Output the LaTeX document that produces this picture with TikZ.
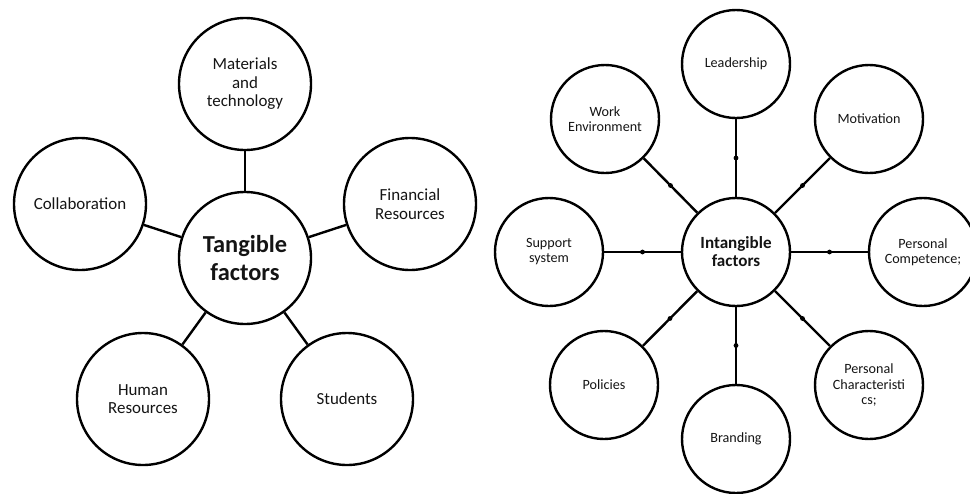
\documentclass[tikz,border=0pt]{standalone}
\usepackage{fontspec}
\setmainfont{Carlito}
\begin{document}
\begin{tikzpicture}[x=0.75pt, y=-0.75pt,
	hub/.style={draw, circle, line width=1.8pt, inner sep=0pt, align=center, text=black!92},
	bigsat/.style={hub, minimum size=99pt, font=\fontsize{12.7}{13.9}\selectfont},
	bighub/.style={hub, minimum size=99pt, font=\bfseries\fontsize{18.3}{21}\selectfont},
	smallsat/.style={hub, minimum size=81pt, font=\fontsize{10.6}{11.3}\selectfont},
	smallhub/.style={hub, minimum size=81pt, font=\bfseries\fontsize{12.8}{13.5}\selectfont},
	link/.style={line width=1.8pt},
	midpt/.style={circle, fill=black, inner sep=0pt, minimum size=3.6pt}]
	\clip (0,0) rectangle (970,493);

	% tangible side
	\node[bighub] (tang) at (245,258) {Tangible\\factors};
	\node[bigsat] (mat) at (245,84) {Materials\\and\\technology};
	\node[bigsat] (fin) at (410,204) {Financial\\Resources};
	\node[bigsat] (stud) at (347,399) {Students};
	\node[bigsat] (hr) at (143,399) {Human\\Resources};
	\node[bigsat] (coll) at (80,204) {Collaboration};
	\draw[link] (tang) -- (mat);
	\draw[link] (tang) -- (fin);
	\draw[link] (tang) -- (stud);
	\draw[link] (tang) -- (hr);
	\draw[link] (tang) -- (coll);

	% intangible side
	\node[smallhub] (intang) at (736,252) {Intangible\\factors};
	\node[smallsat] (lead) at (736,64) {Leadership};
	\node[smallsat] (motiv) at (869,119) {Motivation};
	\node[smallsat] (comp) at (923,252) {Personal\\Competence;};
	\node[smallsat] (chars) at (869,385) {Personal\\Characteristi\\cs;};
	\node[smallsat] (brand) at (736,439) {Branding};
	\node[smallsat] (pol) at (604,385) {Policies};
	\node[smallsat] (supp) at (549,252) {Support\\system};
	\node[smallsat] (work) at (605,119) {Work\\Environment};
	\draw[link] (intang) -- node[midpt] {} (lead);
	\draw[link] (intang) -- node[midpt] {} (motiv);
	\draw[link] (intang) -- node[midpt] {} (comp);
	\draw[link] (intang) -- node[midpt] {} (chars);
	\draw[link] (intang) -- node[midpt] {} (brand);
	\draw[link] (intang) -- node[midpt] {} (pol);
	\draw[link] (intang) -- node[midpt] {} (supp);
	\draw[link] (intang) -- node[midpt] {} (work);
\end{tikzpicture}
\end{document}
